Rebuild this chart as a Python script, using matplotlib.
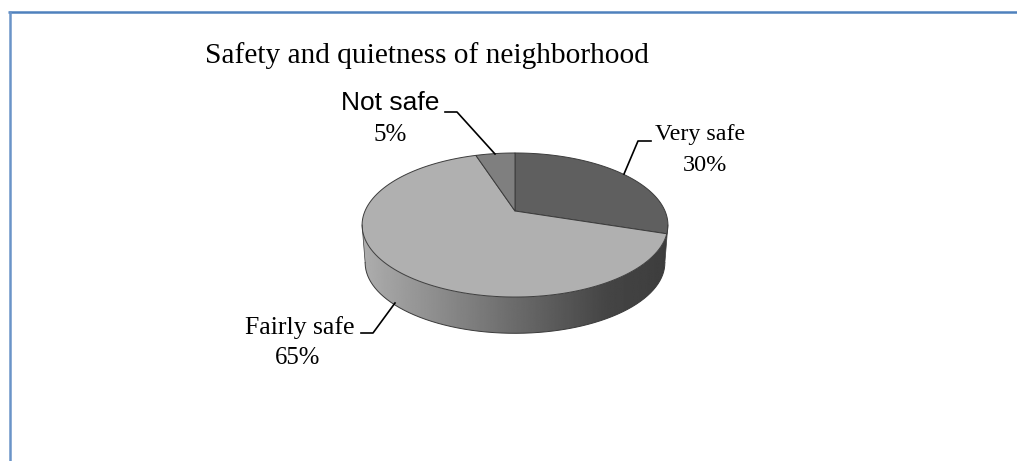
import numpy as np
import matplotlib
matplotlib.use("Agg")
import matplotlib.pyplot as plt
from matplotlib.patches import Polygon

title = "Safety and quietness of neighborhood"
categories = ["Very safe", "Fairly safe", "Not safe"]
values = [30, 65, 5]
colors = ["#5f5f5f", "#b0b0b0", "#7f7f7f"]

W, H = 1017, 461
CX, CY = 515, 211
RX, RY, PERSP = 150, 69.3, 0.1945
DEPTH = 38
SHRINK = 0.98


def project(theta):
    # theta runs clockwise from 12 o'clock, pie seen in perspective
    x = np.sin(theta)
    y = np.cos(theta)
    d = 1 + PERSP * y
    return CX + RX * x / d, CY - RY * y / d


def project_low(theta):
    # same circle, lower rim of the pie
    x, y = project(theta)
    return CX + (x - CX) * SHRINK, CY + DEPTH + (y - CY) * SHRINK


fig = plt.figure(figsize=(W / 100, H / 100), dpi=100, facecolor="white")
ax = fig.add_axes([0, 0, 1, 1])

# frame, only top and left are visible
ax.plot([8, W], [12, 12], color="#4f81bd", lw=1.8, solid_capstyle="butt")
ax.plot([9.5, 9.5], [11, H], color="#6a94c8", lw=1.8, solid_capstyle="butt")

# side wall of the pie with gradient, between the two widest points
widest = np.arccos(-PERSP)
t = np.linspace(widest, 2 * np.pi - widest, 200)
tx, ty = project(t)
bx, by = project_low(t)
wall = Polygon(np.c_[np.r_[tx, bx[::-1]], np.r_[ty, by[::-1]]], closed=True, fc="none", ec="none")
ax.add_patch(wall)
grad = np.interp(np.linspace(0, 1, 300), [0, 0.25, 0.5, 0.8, 1], [0.68, 0.55, 0.42, 0.27, 0.24])
im = ax.imshow(grad[None, :], cmap="gray", vmin=0, vmax=1, aspect="auto",
               extent=[362, 668, 340, 200], interpolation="bilinear")
im.set_clip_path(wall)
ax.plot(bx, by, color="#3a3a3a", lw=0.7)
ax.plot([tx[0], bx[0]], [ty[0], by[0]], color="#3a3a3a", lw=0.5)
ax.plot([tx[-1], bx[-1]], [ty[-1], by[-1]], color="#3a3a3a", lw=0.5)

# top slices
start = 0.0
total = sum(values)
for v, c in zip(values, colors):
    end = start + v / total * 2 * np.pi
    a = np.linspace(start, end, 120)
    px, py = project(a)
    ax.add_patch(Polygon(np.c_[np.r_[CX, px], np.r_[CY, py]], closed=True,
                         fc=c, ec="#3c3c3c", lw=0.7, joinstyle="round"))
    start = end

ax.set_xlim(0, W)
ax.set_ylim(H, 0)
ax.axis("off")

serif = "Liberation Serif"
ax.text(205, 56, title, family=serif, fontsize=21.2, ha="left", va="center", color="black")

# data labels
ax.text(700.5, 134, categories[0], family=serif, fontsize=17.3, ha="center", va="center")
ax.text(705, 165, f"{values[0]}%", family=serif, fontsize=17.5, ha="center", va="center")
ax.text(299.5, 328, categories[1], family=serif, fontsize=18.5, ha="center", va="center")
ax.text(298, 358, f"{values[1]}%", family=serif, fontsize=17.8, ha="center", va="center")
ax.text(390.5, 103, categories[2], family="Liberation Sans", fontsize=19, ha="center", va="center")
ax.text(390, 135, f"{values[2]}%", family=serif, fontsize=18, ha="center", va="center")

# leader lines
ax.plot([651, 638, 624], [141, 141, 174], color="black", lw=1.2)
ax.plot([361, 373, 395], [333, 333, 303], color="black", lw=1.2)
ax.plot([445, 457, 495], [112, 112, 154], color="black", lw=1.2)

fig.savefig("out.png", dpi=100, facecolor="white")
